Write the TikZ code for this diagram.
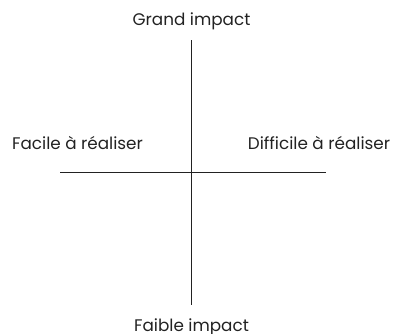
\documentclass[tikz,border=0pt]{standalone}
\usepackage{fontspec}
\setmainfont{Poppins}
\definecolor{ink}{HTML}{222222}
\begin{document}
\begin{tikzpicture}[x=1pt,y=-1pt,
  lbl/.style={text=ink,font=\fontsize{16.8}{20}\selectfont,inner sep=0pt,anchor=base},
  axis/.style={draw=ink,line width=0.9pt}]
\useasboundingbox (0,0) rectangle (395,333);
\node[lbl] (top) at (191.5,25) {Grand impact};
\node[lbl] (bot) at (191.5,331) {Faible impact};
\node[lbl] (left) at (77.5,149) {Facile à réaliser};
\node[lbl] (right) at (319,149) {Difficile à réaliser};
\coordinate (vt) at (191.5,40);
\coordinate (vb) at (191.5,305);
\coordinate (hl) at (60,172.5);
\coordinate (hr) at (326,172.5);
\draw[axis] (vt) -- (vb);
\draw[axis] (hl) -- (hr);
\end{tikzpicture}
\end{document}
